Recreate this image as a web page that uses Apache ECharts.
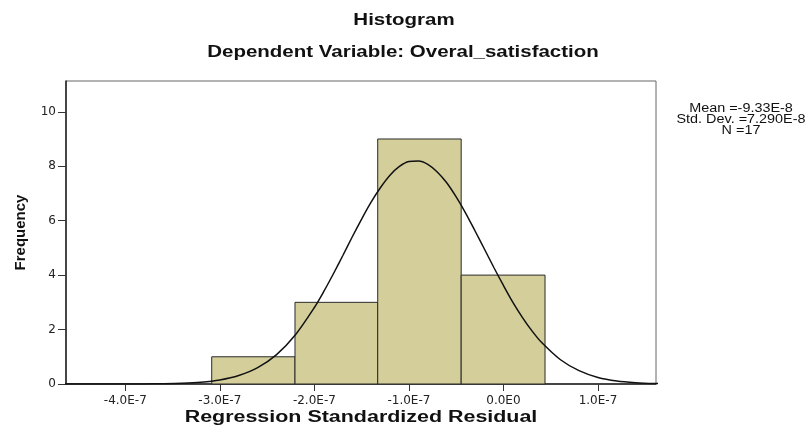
<!DOCTYPE html>
<html>
<head>
<meta charset="utf-8">
<script src="https://cdn.jsdelivr.net/npm/echarts@6/dist/echarts.min.js"></script>
<style>
html,body{margin:0;padding:0;background:#fff;}
#c{width:807px;height:434px;}
</style>
</head>
<body>
<div id="c"></div>
<script>
// Histogram bins: [start, end] in residual units, and counts
var binStarts = [-3.086e-7, -2.205e-7, -1.330e-7, -0.447e-7];
var binEnds   = [-2.205e-7, -1.330e-7, -0.447e-7, 0.440e-7];
var binCounts = [1, 3, 9, 4];

// Normal curve points
var curveX = [-4.8e-7, -4.6e-7, -4.4e-7, -4.2e-7, -4.0e-7, -3.8e-7, -3.6e-7, -3.4e-7, -3.2e-7, -3.0e-7, -2.8e-7, -2.6e-7, -2.4e-7, -2.2e-7,
  -2.0e-7, -1.9e-7, -1.8e-7, -1.7e-7, -1.6e-7, -1.5e-7, -1.4e-7, -1.3e-7, -1.2e-7, -1.1e-7, -1.0e-7, -0.9e-7, -0.8e-7, -0.7e-7, -0.6e-7, -0.5e-7,
  -0.4e-7, -0.3e-7, -0.2e-7, -0.1e-7, 0.0, 0.1e-7, 0.2e-7, 0.3e-7, 0.4e-7, 0.6e-7, 0.8e-7, 1.0e-7, 1.2e-7, 1.4e-7, 1.6e-7, 1.8e-7];
var curveY = [0.0, 0.0, 0.0001, 0.0004, 0.0013, 0.004, 0.011, 0.027, 0.065, 0.147, 0.309, 0.60, 1.08, 1.81,
  2.81, 3.40, 4.04, 4.71, 5.40, 6.06, 6.68, 7.22, 7.67, 7.99, 8.17, 8.19, 8.07, 7.79, 7.39, 6.87,
  6.28, 5.62, 4.95, 4.27, 3.62, 3.00, 2.45, 1.96, 1.54, 0.90, 0.49, 0.24, 0.11, 0.05, 0.02, 0.007];

// Tick labels
var xTickValues = [-4e-7, -3e-7, -2e-7, -1e-7, 0, 1e-7];
var xTickLabels = ['-4.0E-7', '-3.0E-7', '-2.0E-7', '-1.0E-7', '0.0E0', '1.0E-7'];
var yTickValues = [0, 2, 4, 6, 8, 10];

var titleText = 'Histogram';
var subtitleText = 'Dependent Variable: Overal_satisfaction';
var xName = 'Regression Standardized Residual';
var yName = 'Frequency';
var statsLines = ['Mean =-9.33E-8', 'Std. Dev. =7.290E-8', 'N =17'];

var barData = binStarts.map(function (s, i) { return [s, binEnds[i], binCounts[i]]; });
var curveData = curveX.map(function (x, i) { return [x, curveY[i]]; });

var chart = echarts.init(document.getElementById('c'), null, {renderer: 'canvas'});
var fontFam = 'Liberation Sans, Arial, sans-serif';
var boldFont = 'bold 16px Liberation Sans, Arial, sans-serif';
chart.setOption({
  animation: false,
  backgroundColor: '#fff',
  grid: {left: 66, top: 81, right: 151, bottom: 50, show: true, borderColor: '#666', borderWidth: 1, containLabel: false},
  xAxis: {
    type: 'value', min: -4.6275e-7, max: 1.614e-7,
    axisLine: {show: true, onZero: false, lineStyle: {color: '#222', width: 1.5}},
    splitLine: {show: false},
    axisTick: {show: true, length: 7, lineStyle: {color: '#333'}, customValues: xTickValues},
    axisLabel: {
      customValues: xTickValues, margin: 11, fontFamily: 'DejaVu Sans, sans-serif', fontSize: 12, color: '#222',
      formatter: function (v) {
        for (var i = 0; i < xTickValues.length; i++) { if (Math.abs(v - xTickValues[i]) < 1e-12) return xTickLabels[i]; }
        return '';
      }
    }
  },
  yAxis: {
    type: 'value', min: 0, max: 11.13,
    name: yName, nameLocation: 'middle', nameGap: 38,
    nameTextStyle: {fontFamily: fontFam, fontSize: 15, fontWeight: 'bold', color: '#111'},
    axisLine: {show: true, onZero: false, lineStyle: {color: '#222', width: 1.5}},
    splitLine: {show: false},
    axisTick: {show: true, length: 8, lineStyle: {color: '#333'}, customValues: yTickValues},
    axisLabel: {customValues: yTickValues, margin: 10, fontFamily: 'DejaVu Sans, sans-serif', fontSize: 12, color: '#222'}
  },
  graphic: [
    {type: 'text', x: 404, y: 21, scaleX: 1.28, style: {text: titleText, font: boldFont, fill: '#111', align: 'center', verticalAlign: 'middle'}},
    {type: 'text', x: 403, y: 53, scaleX: 1.28, style: {text: subtitleText, font: boldFont, fill: '#111', align: 'center', verticalAlign: 'middle'}},
    {type: 'text', x: 361, y: 418, scaleX: 1.34, style: {text: xName, font: boldFont, fill: '#111', align: 'center', verticalAlign: 'middle'}},
    {type: 'text', x: 741, y: 103, scaleX: 1.2, style: {text: statsLines.join('\n'), font: '12px Liberation Sans, Arial, sans-serif', fill: '#111', align: 'center', verticalAlign: 'top', lineHeight: 11}}
  ],
  series: [
    {
      type: 'custom',
      renderItem: function (params, api) {
        var p0 = api.coord([api.value(0), api.value(2)]);
        var p1 = api.coord([api.value(1), 0]);
        return {
          type: 'rect',
          shape: {x: p0[0], y: p0[1], width: p1[0] - p0[0], height: p1[1] - p0[1]},
          style: {fill: '#d3ce9a', stroke: '#2a2a2a', lineWidth: 1}
        };
      },
      encode: {x: [0, 1], y: 2},
      data: barData,
      z: 2
    },
    {
      type: 'line', data: curveData, smooth: 0.3, showSymbol: false, clip: true,
      lineStyle: {color: '#111', width: 1.5}, z: 3
    }
  ]
});
</script>
</body>
</html>
